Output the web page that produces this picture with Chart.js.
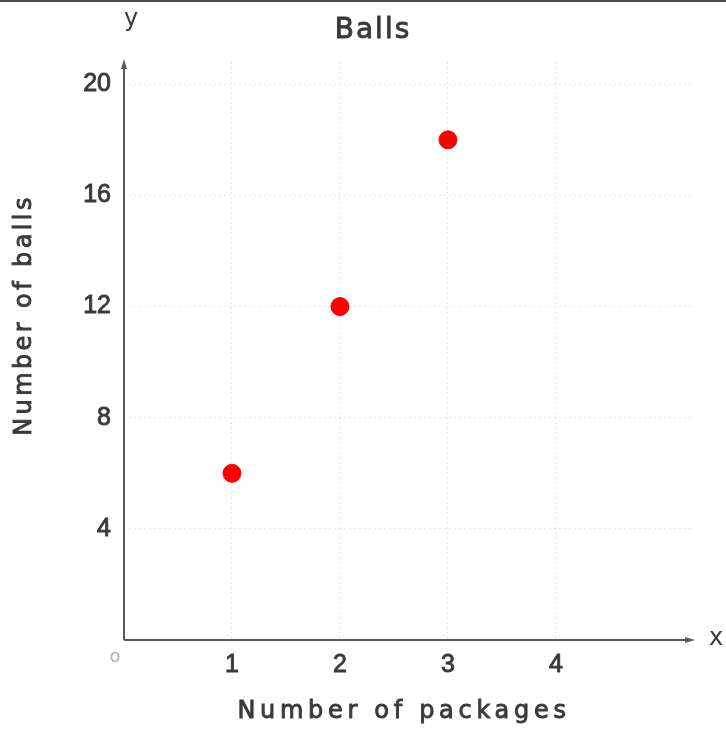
<!DOCTYPE html>
<html>
<head>
<meta charset="utf-8">
<script src="https://cdn.jsdelivr.net/npm/chart.js@4/dist/chart.umd.min.js"></script>
<style>
    html, body { margin: 0; padding: 0; background: #fff; }
    #wrap { position: relative; width: 726px; height: 729px; }
</style>
</head>
<body>
<div id="wrap"><canvas id="chart"></canvas></div>
<script>
// data
const packages = [1, 2, 3];
const balls = [6, 12, 18];
const xTickValues = [1, 2, 3, 4];
const yTickValues = [4, 8, 12, 16, 20];
const xMax = 5.26;
const yMax = 20.8;

const chartTitle = 'Balls';
const xAxisTitle = 'Number of packages';
const yAxisTitle = 'Number of balls';

const textColor = '#3a3a3a';
const axisColor = '#5a5a5a';
const gridColor = 'rgba(0, 0, 0, 0.10)';

// draw text a little heavier, like the scanned original
function heavyText(ctx, text, x, y) {
    ctx.strokeText(text, x, y);
    ctx.fillText(text, x, y);
}

// axes with arrows, axis letters and titles drawn by hand
const axesPlugin = {
    id: 'axesPlugin',
    beforeDraw(chart) {
        const ctx = chart.ctx;
        ctx.save();
        ctx.fillStyle = '#4a4a4a';
        ctx.fillRect(0, 0, chart.width, 2);
        ctx.restore();
    },
    afterDatasetsDraw(chart) {
        const ctx = chart.ctx;
        const x = chart.scales.x;
        const y = chart.scales.y;
        const ox = x.getPixelForValue(0);
        const oy = y.getPixelForValue(0);
        const top = y.getPixelForValue(yMax);
        const right = x.getPixelForValue(xMax);

        ctx.save();
        ctx.strokeStyle = axisColor;
        ctx.fillStyle = axisColor;
        ctx.lineWidth = 2;
        ctx.beginPath();
        ctx.moveTo(ox, oy);
        ctx.lineTo(ox, top + 4);
        ctx.moveTo(ox, oy);
        ctx.lineTo(right - 4, oy);
        ctx.stroke();

        // arrow heads
        ctx.beginPath();
        ctx.moveTo(ox, top - 3);
        ctx.lineTo(ox - 3, top + 7);
        ctx.lineTo(ox + 3, top + 7);
        ctx.closePath();
        ctx.fill();
        ctx.beginPath();
        ctx.moveTo(right + 3, oy);
        ctx.lineTo(right - 7, oy - 3);
        ctx.lineTo(right - 7, oy + 3);
        ctx.closePath();
        ctx.fill();

        ctx.fillStyle = textColor;
        ctx.strokeStyle = textColor;
        ctx.lineWidth = 0.9;
        ctx.textAlign = 'center';
        ctx.textBaseline = 'middle';

        ctx.font = '24px "DejaVu Sans"';
        ctx.fillText('y', ox + 7, 20);
        ctx.fillText('x', right + 24, oy - 1);

        ctx.fillStyle = '#b0b0b0';
        ctx.font = '18px "DejaVu Sans"';
        ctx.fillText('o', ox - 9, oy + 17);

        ctx.fillStyle = textColor;
        ctx.letterSpacing = '2px';
        ctx.font = '28px "DejaVu Sans"';
        heavyText(ctx, chartTitle, 373, 31);

        ctx.letterSpacing = '4.7px';
        ctx.font = '24px "DejaVu Sans"';
        heavyText(ctx, xAxisTitle, 404, 712);

        ctx.letterSpacing = '3.4px';
        ctx.translate(25, 316);
        ctx.rotate(-Math.PI / 2);
        heavyText(ctx, yAxisTitle, 1, 0);
        ctx.restore();
    }
};

const tickStyle = {
    color: textColor,
    textStrokeColor: textColor,
    textStrokeWidth: 0.9,
    font: {family: 'Liberation Sans', size: 25}
};

new Chart(document.getElementById('chart'), {
    type: 'scatter',
    data: {
        datasets: [{
            label: 'Balls',
            data: packages.map((p, i) => ({x: p, y: balls[i]})),
            backgroundColor: '#ff0000',
            borderColor: '#ff0000',
            pointRadius: 9,
            pointHoverRadius: 9
        }]
    },
    options: {
        responsive: true,
        maintainAspectRatio: false,
        animation: false,
        layout: {
            padding: {left: 0, right: 34, top: 62, bottom: 0}
        },
        plugins: {
            legend: {display: false},
            title: {display: false},
            tooltip: {enabled: false}
        },
        scales: {
            x: {
                type: 'linear',
                min: 0,
                max: xMax,
                afterBuildTicks(scale) {
                    scale.ticks = xTickValues.map(v => ({value: v}));
                },
                afterFit(scale) {
                    scale.height = 89;
                },
                border: {display: false, dash: [2, 3]},
                grid: {color: gridColor, drawTicks: false},
                ticks: {...tickStyle, padding: 10, maxRotation: 0}
            },
            y: {
                type: 'linear',
                min: 0,
                max: yMax,
                afterBuildTicks(scale) {
                    scale.ticks = yTickValues.map(v => ({value: v}));
                },
                afterFit(scale) {
                    scale.width = 124;
                },
                border: {display: false, dash: [2, 3]},
                grid: {color: gridColor, drawTicks: false},
                ticks: {...tickStyle, padding: 13}
            }
        }
    },
    plugins: [axesPlugin]
});
</script>
</body>
</html>
